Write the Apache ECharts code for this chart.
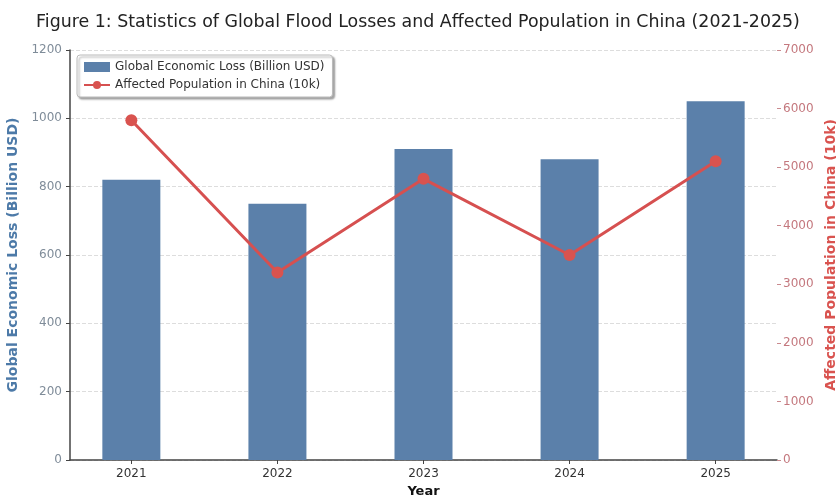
<!DOCTYPE html>
<html>
<head>
<meta charset="utf-8">
<script src="https://cdn.jsdelivr.net/npm/echarts@6/dist/echarts.min.js"></script>
<style>
  html, body { margin: 0; padding: 0; background: #fff; }
  #main { width: 836px; height: 497px; }
</style>
</head>
<body>
<div id="main"></div>
<script>
// data
var years = ['2021', '2022', '2023', '2024', '2025'];
var economicLoss = [820, 750, 910, 880, 1050];
var affectedPop = [5800, 3200, 4800, 3500, 5100];
var leftTicks = [0, 200, 400, 600, 800, 1000, 1200];
var rightTicks = [0, 1000, 2000, 3000, 4000, 5000, 6000, 7000];

(function(){
  var myChart = echarts.init(document.getElementById('main'));
  var idx = years.map(function(y, i){ return i; });

  var option = {
    textStyle: { fontFamily: 'DejaVu Sans' },
    title: {
      text: 'Figure 1: Statistics of Global Flood Losses and Affected Population in China (2021-2025)',
      left: 'center',
      top: 9,
      textStyle: { fontSize: 17.4, fontWeight: 'normal', color: '#222', fontFamily: 'DejaVu Sans' }
    },
    legend: {
      orient: 'vertical',
      left: 77,
      top: 55,
      itemGap: 6,
      itemWidth: 26,
      itemHeight: 10,
      padding: [6, 8, 6, 6],
      borderColor: '#bbb',
      borderWidth: 1,
      borderRadius: 3,
      backgroundColor: '#fff',
      shadowColor: 'rgba(0,0,0,0.35)',
      shadowBlur: 2,
      shadowOffsetX: 2,
      shadowOffsetY: 2,
      textStyle: { fontSize: 12, color: '#333' },
      data: [
        { name: 'Global Economic Loss (Billion USD)', icon: 'rect' },
        { name: 'Affected Population in China (10k)' }
      ]
    },
    grid: { left: 70, right: 59, top: 50, bottom: 37, outerBoundsMode: 'none' },
    xAxis: {
      type: 'value',
      min: -0.42,
      max: 4.42,
      name: 'Year',
      nameLocation: 'middle',
      nameGap: 24,
      nameTextStyle: { fontWeight: 'bold', fontSize: 13, color: '#111' },
      splitLine: { show: false },
      axisLine: { show: true, onZero: false, lineStyle: { color: '#444', width: 1.5 } },
      axisTick: { show: true, customValues: idx, length: 4, lineStyle: { color: '#444' } },
      axisLabel: {
        customValues: idx,
        color: '#333',
        fontSize: 12,
        margin: 8,
        formatter: function(v){ return years[Math.round(v)]; }
      }
    },
    yAxis: [
      {
        type: 'value',
        min: 0,
        max: 1200,
        interval: 200,
        name: 'Global Economic Loss (Billion USD)',
        nameLocation: 'middle',
        nameGap: 40,
        nameTextStyle: { fontWeight: 'bold', fontSize: 14, color: '#4d7aa8' },
        axisLine: { show: true, onZero: false, lineStyle: { color: '#444', width: 1.5 } },
        axisTick: { show: true, length: 4, lineStyle: { color: '#444' } },
        axisLabel: {
          color: '#7f8c99',
          fontSize: 12,
          formatter: function(v){ return leftTicks.indexOf(v) >= 0 ? String(v) : ''; }
        },
        splitLine: { show: true, lineStyle: { color: '#ddd', type: 'dashed' } }
      },
      {
        type: 'value',
        min: 0,
        max: 7000,
        interval: 1000,
        name: 'Affected Population in China (10k)',
        nameLocation: 'middle',
        nameGap: 40,
        nameTextStyle: { fontWeight: 'bold', fontSize: 14, color: '#d9534f' },
        axisLine: { show: false, onZero: false },
        axisTick: { show: true, length: 4, lineStyle: { color: '#c98a8e' } },
        axisLabel: {
          color: '#c4787e',
          fontSize: 12,
          margin: 6,
          formatter: function(v){ return rightTicks.indexOf(v) >= 0 ? String(v) : ''; }
        },
        splitLine: { show: false }
      }
    ],
    series: [
      {
        name: 'Global Economic Loss (Billion USD)',
        type: 'bar',
        barWidth: 58,
        itemStyle: { color: '#5b80aa' },
        z: 2,
        data: economicLoss.map(function(v, i){ return [i, v]; })
      },
      {
        name: 'Affected Population in China (10k)',
        type: 'line',
        yAxisIndex: 1,
        symbol: 'circle',
        symbolSize: 12,
        lineStyle: { color: '#d65050', width: 3 },
        itemStyle: { color: '#d9534f' },
        z: 3,
        data: affectedPop.map(function(v, i){ return [i, v]; })
      }
    ]
  };

  myChart.setOption(option);
  window.addEventListener('resize', function(){
    myChart.resize();
  });
})();
</script>
</body>
</html>
